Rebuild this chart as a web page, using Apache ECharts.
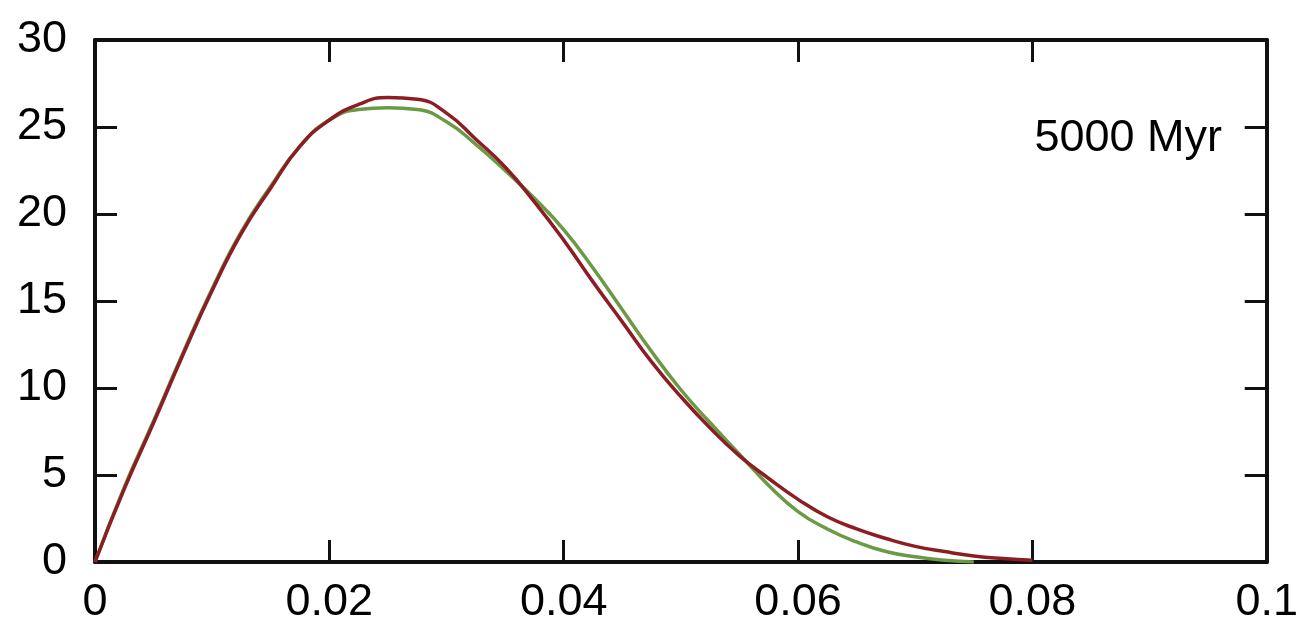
<!DOCTYPE html>
<html>
<head>
<meta charset="utf-8">
<script src="https://cdn.jsdelivr.net/npm/echarts@6/dist/echarts.min.js"></script>
<style>
  html, body { margin: 0; padding: 0; background: #ffffff; }
  #chart { width: 1301px; height: 631px; }
</style>
</head>
<body>
<div id="chart"></div>
<script>
// Eccentricity grid (shared by both curves)
const eccGrid = [
  0, 0.0025, 0.005, 0.0075, 0.01, 0.0125, 0.015, 0.0175, 0.02, 0.0225,
  0.025, 0.0275, 0.03, 0.0325, 0.035, 0.0375, 0.04, 0.0425, 0.045, 0.0475,
  0.05, 0.0525, 0.055, 0.0575, 0.06, 0.0625, 0.065, 0.0675, 0.07, 0.0725,
  0.075, 0.0775, 0.08
];

// Distribution at 5000 Myr, dark red curve
const redDist = [
  0, 4.2, 8.0, 11.9, 15.6, 18.9, 21.5, 23.9, 25.4, 26.3,
  26.7, 26.6, 25.8, 24.3, 22.7, 20.7, 18.5, 16.1, 13.8, 11.5,
  9.5, 7.7, 6.1, 4.8, 3.6, 2.6, 1.9, 1.35, 0.9, 0.6,
  0.35, 0.2, 0.1
];

// Distribution at 5000 Myr, green curve (ends at 0.075)
const greenDist = [
  0, 4.3, 8.1, 12.0, 15.7, 19.0, 21.6, 23.9, 25.4, 26.0,
  26.1, 26.0, 25.3, 24.0, 22.5, 20.9, 19.1, 16.9, 14.5, 12.1,
  9.9, 8.0, 6.2, 4.4, 2.9, 1.9, 1.15, 0.6, 0.3, 0.1,
  0
];

const xTicks = [0, 0.02, 0.04, 0.06, 0.08, 0.1];
const yTicks = [0, 5, 10, 15, 20, 25, 30];
const panelLabel = '5000 Myr';

const pairs = (ys) => ys.map((v, i) => [eccGrid[i], v]);

const FONT = '"Liberation Sans", Arial, sans-serif';
const INK = '#111111';

const baseAxis = {
  axisLine: { show: true, onZero: false, lineStyle: { color: INK, width: 4 } },
  axisTick: { show: true, inside: true, length: 22, lineStyle: { color: INK, width: 3 } },
  splitLine: { show: false },
  minorTick: { show: false }
};

const chart = echarts.init(document.getElementById('chart'), null, { renderer: 'canvas' });

chart.setOption({
  animation: false,
  backgroundColor: '#ffffff',
  grid: { left: 95, right: 33, top: 40, bottom: 69, containLabel: false },
  xAxis: [
    Object.assign({}, baseAxis, {
      type: 'value', position: 'bottom', min: xTicks[0], max: xTicks[xTicks.length - 1], interval: 0.02,
      axisLabel: {
        show: true, margin: 18, color: '#000', fontSize: 45, fontFamily: FONT,
        formatter: (v) => String(parseFloat(v.toFixed(4)))
      }
    }),
    Object.assign({}, baseAxis, {
      type: 'value', position: 'top', min: xTicks[0], max: xTicks[xTicks.length - 1], interval: 0.02,
      axisLabel: { show: false }
    })
  ],
  yAxis: [
    Object.assign({}, baseAxis, {
      type: 'value', position: 'left', min: yTicks[0], max: yTicks[yTicks.length - 1], interval: 5,
      axisLabel: {
        show: true, margin: 28, color: '#000', fontSize: 45, fontFamily: FONT,
        formatter: (v) => String(v)
      }
    }),
    Object.assign({}, baseAxis, {
      type: 'value', position: 'right', min: yTicks[0], max: yTicks[yTicks.length - 1], interval: 5,
      axisLabel: { show: false }
    })
  ],
  graphic: [{
    type: 'text',
    right: 79,
    top: 116,
    style: {
      text: panelLabel,
      fill: '#000',
      font: '45px ' + FONT,
      textAlign: 'right'
    }
  }],
  series: [
    {
      name: 'green',
      type: 'line',
      xAxisIndex: 0, yAxisIndex: 0,
      data: pairs(greenDist),
      smooth: 0.5,
      showSymbol: false,
      lineStyle: { color: '#6b9a45', width: 3.5 },
      z: 3
    },
    {
      name: 'red',
      type: 'line',
      xAxisIndex: 0, yAxisIndex: 0,
      data: pairs(redDist),
      smooth: 0.5,
      showSymbol: false,
      lineStyle: { color: '#8c1d24', width: 3.5 },
      z: 4
    }
  ]
});
</script>
</body>
</html>
